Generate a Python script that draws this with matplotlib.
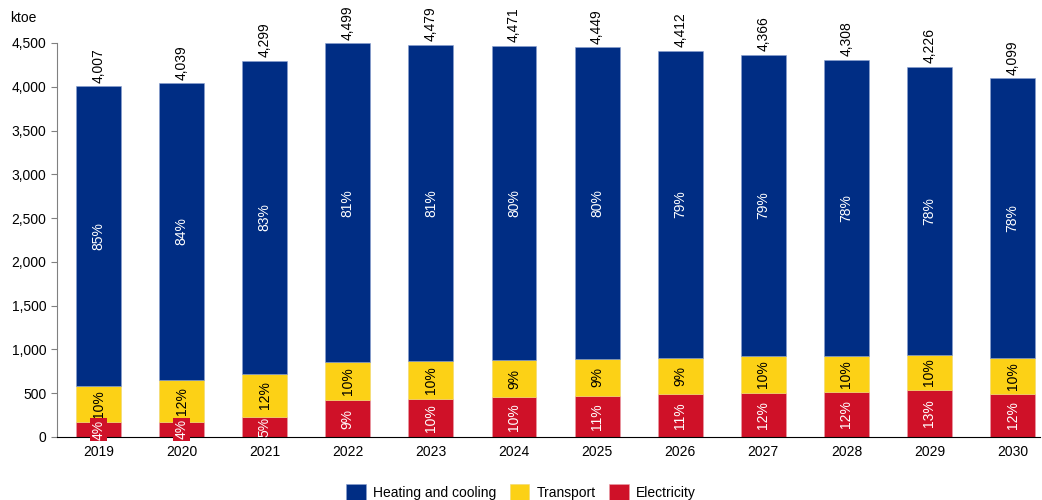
import numpy as np
import matplotlib.pyplot as plt
from matplotlib.ticker import FuncFormatter

plt.rcParams['font.family'] = ['Liberation Sans', 'DejaVu Sans']

years = ['2019', '2020', '2021', '2022', '2023', '2024',
         '2025', '2026', '2027', '2028', '2029', '2030']
electricity = [167, 174, 224, 417, 435, 458, 473, 492, 503, 515, 534, 490]
transport = [420, 481, 500, 435, 432, 420, 417, 413, 420, 413, 405, 410]
heating = [3420, 3384, 3575, 3647, 3612, 3593, 3559, 3507, 3443, 3380, 3287, 3199]

c_heat = '#002D84'
c_trans = '#FCD116'
c_elec = '#CF1128'

e = np.array(electricity)
t = np.array(transport)
h = np.array(heating)
total = e + t + h
x = np.arange(len(years))
w = 0.54

fig = plt.figure(figsize=(10.42, 5), dpi=100)
ax = fig.add_axes([57 / 1042, 0.126, (1040 - 57) / 1042, 0.788])

ax.bar(x, e, w, color=c_elec, edgecolor='#e8a0a8', linewidth=0.4, label='Electricity')
ax.bar(x, t, w, bottom=e, color=c_trans, edgecolor='#f0d870', linewidth=0.4, label='Transport')
ax.bar(x, h, w, bottom=e + t, color=c_heat, edgecolor='#8aa0d0', linewidth=0.4,
       label='Heating and cooling')

for i in range(len(x)):
    ax.text(x[i], total[i] + 40, f'{total[i]:,}', rotation=90, ha='center', va='bottom',
            fontsize=10, color='black')
    ax.text(x[i], h[i] / 2 + e[i] + t[i], f'{round(100 * h[i] / total[i])}%', rotation=90,
            ha='center', va='center', fontsize=10, color='white')
    ax.text(x[i], e[i] + t[i] / 2, f'{round(100 * t[i] / total[i])}%', rotation=90,
            ha='center', va='center', fontsize=10, color='black')
    box = dict(facecolor=c_elec, edgecolor='none', pad=1.0) if e[i] < 200 else None
    ax.text(x[i], e[i] / 2, f'{round(100 * e[i] / total[i])}%', rotation=90,
            ha='center', va='center', fontsize=10, color='white',
            bbox=box, clip_on=False)

ax.set_xlim(-0.5, 11.33)
ax.set_ylim(0, 4500)
ax.set_yticks(np.arange(0, 4501, 500))
ax.yaxis.set_major_formatter(FuncFormatter(lambda v, p: f'{int(v):,}'))
ax.set_xticks(x)
ax.set_xticklabels(years)
ax.tick_params(axis='x', length=0, labelsize=10, pad=6)
ax.tick_params(axis='y', length=4, labelsize=10, color='#808080', direction='out')

for s in ['top', 'right']:
    ax.spines[s].set_visible(False)
ax.spines['left'].set_color('#808080')
ax.spines['bottom'].set_color('black')

fig.text(10 / 1042, 1 - 18 / 500, 'ktoe', fontsize=10, va='center', ha='left')

handles, labels = ax.get_legend_handles_labels()
fig.legend(handles[::-1], labels[::-1], loc='center', bbox_to_anchor=(0.5, 1 - 492 / 500),
           ncol=3, frameon=False, fontsize=10, handlelength=1.4, handleheight=1.4,
           handletextpad=0.5, columnspacing=1.0)

fig.savefig('out.png', dpi=100)
